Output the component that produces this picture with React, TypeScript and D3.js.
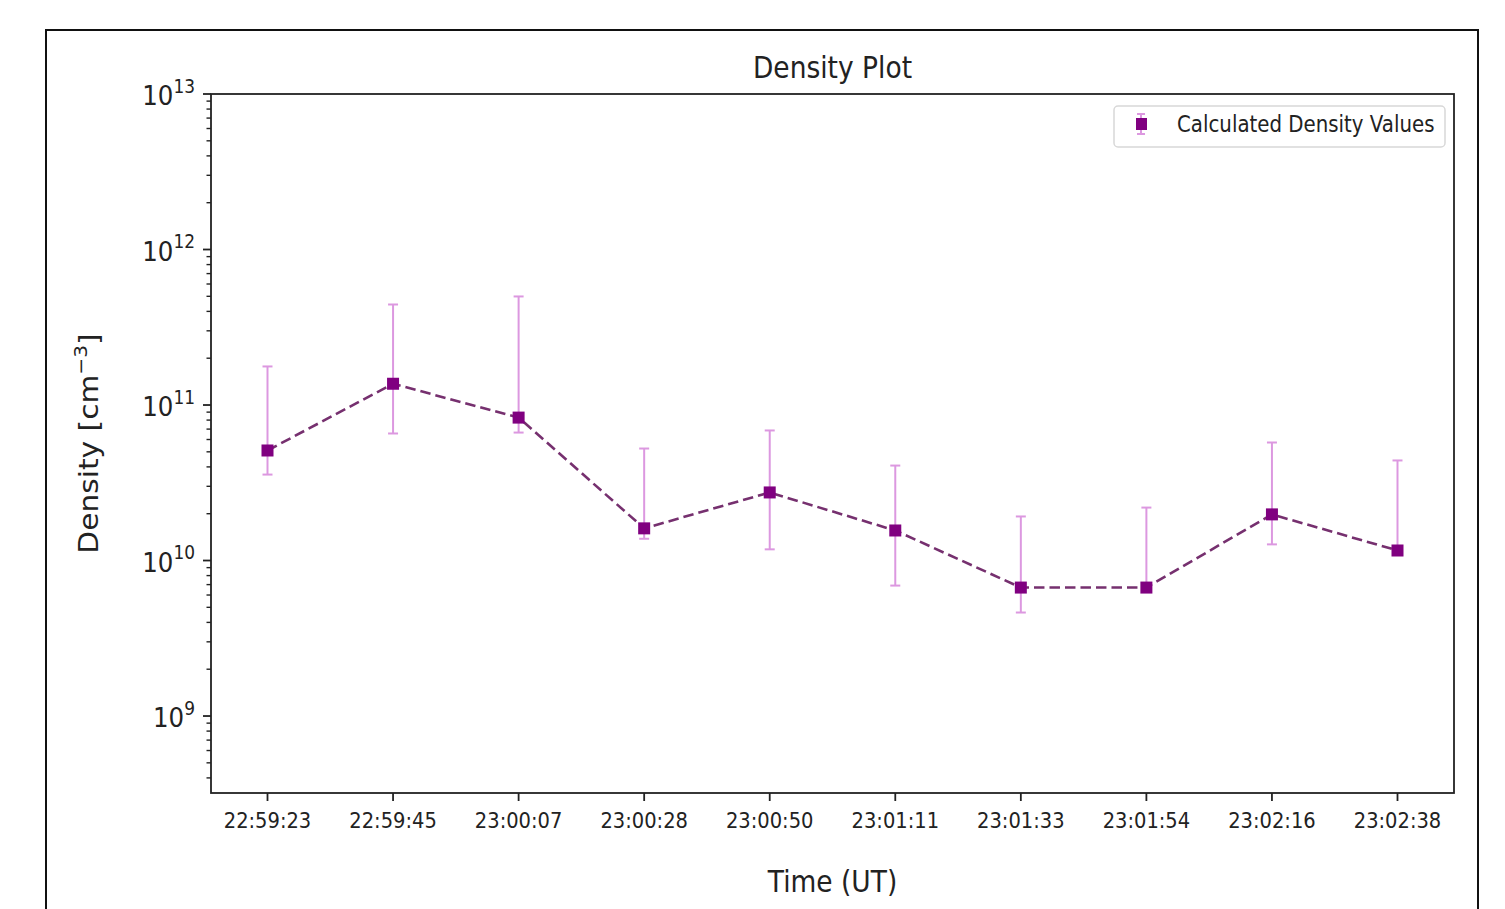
import React, { useRef, useEffect } from "react";
import { select, scaleLinear, scaleLog, line, range } from "d3";

// data
const times = [
  "22:59:23", "22:59:45", "23:00:07", "23:00:28", "23:00:50",
  "23:01:11", "23:01:33", "23:01:54", "23:02:16", "23:02:38",
];
const density = [5.1e10, 1.37e11, 8.3e10, 1.61e10, 2.74e10, 1.56e10, 6.7e9, 6.7e9, 1.98e10, 1.16e10];
const errUpper = [1.77e11, 4.43e11, 4.99e11, 5.25e10, 6.86e10, 4.08e10, 1.92e10, 2.19e10, 5.74e10, 4.4e10];
const errLower = [3.57e10, 6.56e10, 6.65e10, 1.38e10, 1.18e10, 6.9e9, 4.63e9, 6.7e9, 1.27e10, 1.16e10];
const yExponents = [9, 10, 11, 12, 13];

const FONT = "'DejaVu Sans', sans-serif";
const MARKER = "#800080";
const ERR = "#dc98e0";
const LINE = "#76306f";
// the source picture is slightly stretched vertically
const SY = 1.12;

function App() {
  const ref = useRef<SVGSVGElement | null>(null);
  const W = 1505, H = 909;
  const plot = { left: 211, top: 94, right: 1454, bottom: 793 };

  useEffect(() => {
    const svg = select(ref.current);
    svg.selectAll("*").remove();

    const x = scaleLinear()
      .domain([-0.45, times.length - 1 + 0.45])
      .range([plot.left, plot.right]);
    const y = scaleLog()
      .domain([Math.pow(10, 8.505), 1e13])
      .range([plot.bottom, plot.top]);

    const label = (px: number, py: number, size: number, anchor = "middle") =>
      svg.append("text")
        .attr("transform", `translate(${px},${py}) scale(1,${SY})`)
        .attr("text-anchor", anchor)
        .attr("font-family", FONT)
        .attr("font-size", size)
        .attr("fill", "#222");

    // outer frame (bottom edge runs off the page)
    svg.append("rect")
      .attr("x", 46).attr("y", 30)
      .attr("width", 1432).attr("height", 920)
      .attr("fill", "white").attr("stroke", "#111").attr("stroke-width", 2);

    // y ticks: major + minor
    const g = svg.append("g");
    range(8, 13).forEach((d) => {
      range(1, 10).forEach((m) => {
        const v = m * Math.pow(10, d);
        const [lo, hi] = y.domain();
        if (v < lo || v > hi) return;
        const yy = y(v);
        g.append("line")
          .attr("x1", plot.left).attr("x2", plot.left - (m === 1 ? 8 : 4.5))
          .attr("y1", yy).attr("y2", yy)
          .attr("stroke", "#222").attr("stroke-width", m === 1 ? 1.8 : 1.4);
      });
    });
    g.append("line")
      .attr("x1", plot.left).attr("x2", plot.left - 8)
      .attr("y1", y(1e13)).attr("y2", y(1e13))
      .attr("stroke", "#222").attr("stroke-width", 1.8);

    yExponents.forEach((e) => {
      const t = label(195, y(Math.pow(10, e)) + 11, 24.5, "end");
      t.append("tspan").text("10");
      t.append("tspan").attr("font-size", 17).attr("dy", -11).text(String(e));
    });

    // x ticks
    times.forEach((txt, i) => {
      g.append("line")
        .attr("x1", x(i)).attr("x2", x(i))
        .attr("y1", plot.bottom).attr("y2", plot.bottom + 8)
        .attr("stroke", "#222").attr("stroke-width", 1.8);
      label(x(i), 828, 19.5).text(txt);
    });

    // error bars
    const eb = svg.append("g").attr("stroke", ERR).attr("stroke-width", 2);
    times.forEach((_, i) => {
      eb.append("line")
        .attr("x1", x(i)).attr("x2", x(i))
        .attr("y1", y(errLower[i])).attr("y2", y(errUpper[i]));
      [errLower[i], errUpper[i]].forEach((v) => {
        eb.append("line")
          .attr("x1", x(i) - 5).attr("x2", x(i) + 5)
          .attr("y1", y(v)).attr("y2", y(v));
      });
    });

    // dashed line
    const lineGen = line<number>()
      .x((_, i) => x(i))
      .y((d) => y(d));
    svg.append("path")
      .datum(density)
      .attr("d", lineGen)
      .attr("fill", "none")
      .attr("stroke", LINE)
      .attr("stroke-width", 2.6)
      .attr("stroke-dasharray", "10.5,5");

    // markers
    svg.append("g")
      .selectAll("rect")
      .data(density)
      .join("rect")
      .attr("x", (_, i) => x(i) - 6)
      .attr("y", (d) => y(d) - 6)
      .attr("width", 12).attr("height", 12)
      .attr("fill", MARKER);

    // plot frame
    svg.append("rect")
      .attr("x", plot.left).attr("y", plot.top)
      .attr("width", plot.right - plot.left)
      .attr("height", plot.bottom - plot.top)
      .attr("fill", "none").attr("stroke", "#222").attr("stroke-width", 1.8);

    // title and axis labels
    label((plot.left + plot.right) / 2, 78, 26.5).text("Density Plot");
    label((plot.left + plot.right) / 2, 892, 26.5).text("Time (UT)");

    const yl = svg.append("text")
      .attr("transform", `translate(98,${(plot.top + plot.bottom) / 2}) rotate(-90) scale(${SY},1)`)
      .attr("text-anchor", "middle")
      .attr("font-family", FONT).attr("font-size", 26.5).attr("fill", "#222");
    yl.append("tspan").text("Density [cm");
    yl.append("tspan").attr("font-size", 18).attr("dy", -11).text("\u22123");
    yl.append("tspan").attr("dy", 11).text("]");

    // legend
    const lg = svg.append("g");
    lg.append("rect")
      .attr("x", 1114).attr("y", 106)
      .attr("width", 331).attr("height", 41)
      .attr("rx", 4)
      .attr("fill", "white").attr("stroke", "#d8d8d8").attr("stroke-width", 1.5);
    lg.append("line")
      .attr("x1", 1141).attr("x2", 1141)
      .attr("y1", 114).attr("y2", 134)
      .attr("stroke", ERR).attr("stroke-width", 2);
    [114, 134].forEach((yy) => {
      lg.append("line")
        .attr("x1", 1137).attr("x2", 1145)
        .attr("y1", yy).attr("y2", yy)
        .attr("stroke", ERR).attr("stroke-width", 2);
    });
    lg.append("rect")
      .attr("x", 1136).attr("y", 118)
      .attr("width", 11).attr("height", 12)
      .attr("fill", MARKER);
    label(1177, 132, 19.8, "start").text("Calculated Density Values");
  }, []);

  return (
    <svg
      ref={ref}
      width={W}
      height={H}
      style={{ position: "absolute", left: 0, top: 0, background: "white" }}
    />
  );
}

export default App;
